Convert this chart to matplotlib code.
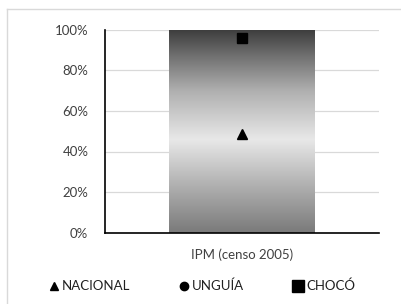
import numpy as np
import matplotlib.pyplot as plt
from matplotlib.lines import Line2D
from matplotlib.colors import LinearSegmentedColormap

categories = ['IPM (censo 2005)']
nacional = [0.486]
unguia = [1.00]
choco = [0.958]

plt.rcParams['font.family'] = ['Lato', 'DejaVu Sans']

fig = plt.figure(figsize=(4.02, 3.04), dpi=100)
ax = fig.add_axes([105 / 402, 1 - 232.7 / 304, 274 / 402, 203 / 304])

x = np.arange(len(categories))
bars = ax.bar(x, unguia, width=0.53, color='none', edgecolor='none', zorder=2)

# gradient fill for the bar (dark top, light middle, dark bottom)
cmap = LinearSegmentedColormap.from_list('g', [
    (0.0, '#7a7a7a'), (0.25, '#b4b4b4'), (0.46, '#e8e8e8'),
    (0.7, '#b0b0b0'), (0.88, '#6e6e6e'), (1.0, '#3e3e3e')])
grad = np.linspace(0, 1, 256).reshape(-1, 1)
for b in bars:
    x0, w, h = b.get_x(), b.get_width(), b.get_height()
    im = ax.imshow(grad, cmap=cmap, origin='lower', aspect='auto',
                   extent=[x0, x0 + w, 0, h], zorder=2)
    im.set_clip_path(b)

ax.plot(x, nacional, linestyle='none', marker='^', color='black', markersize=6.5, zorder=4)
ax.plot(x, choco, linestyle='none', marker='s', color='black', markersize=7, zorder=4)

ax.set_xlim(-0.5, 0.5)
ax.set_ylim(0, 1)
ax.set_yticks(np.arange(0, 1.01, 0.2))
ax.set_yticklabels([f'{int(round(v * 100))}%' for v in np.arange(0, 1.01, 0.2)])
ax.set_xticks(x)
ax.set_xticklabels(categories)
ax.tick_params(axis='both', length=0, labelsize=9.5, colors='#404040', pad=12)
ax.tick_params(axis='x', pad=11)
ax.yaxis.grid(True, color='#d9d9d9', linewidth=0.9, zorder=0)
ax.set_axisbelow(True)
for s in ['top', 'right']:
    ax.spines[s].set_visible(False)
ax.spines['left'].set_color('black')
ax.spines['bottom'].set_color('black')
ax.spines['left'].set_linewidth(1.2)
ax.spines['bottom'].set_linewidth(1.2)

handles = [
    Line2D([], [], linestyle='none', marker='^', color='black', markersize=5.5),
    Line2D([], [], linestyle='none', marker='o', color='black', markersize=6),
    Line2D([], [], linestyle='none', marker='s', color='black', markersize=8),
]
fig.legend(handles, ['NACIONAL', 'UNGUÍA', 'CHOCÓ'], loc='center',
           bbox_to_anchor=(0.5, 1 - 286 / 304), ncol=3, frameon=False,
           fontsize=9.5, handletextpad=0.1, columnspacing=3.6, handlelength=1.0,
           labelcolor='#202020')

# outer chart frame (top and left visible)
fig.add_artist(Line2D([7 / 402, 7 / 402], [0, 1 - 9 / 304], color='#d9d9d9',
                      linewidth=1, transform=fig.transFigure))
fig.add_artist(Line2D([7 / 402, 1], [1 - 9 / 304, 1 - 9 / 304], color='#d9d9d9',
                      linewidth=1, transform=fig.transFigure))

fig.savefig('out.png', dpi=100)
